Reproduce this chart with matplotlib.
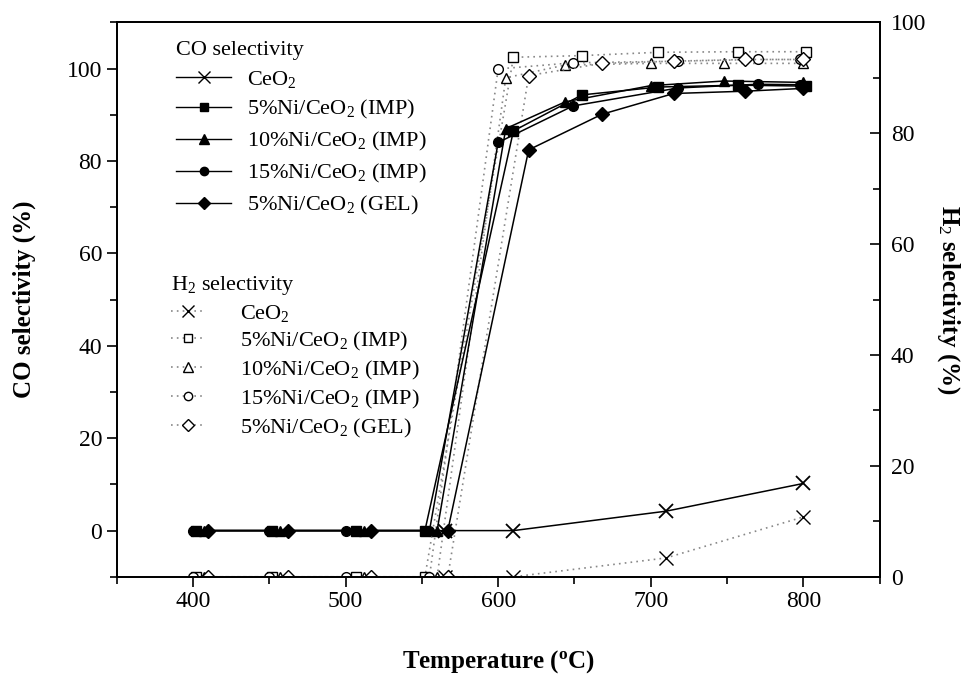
import matplotlib
matplotlib.use('Agg')
import matplotlib.pyplot as plt
from matplotlib.ticker import MultipleLocator
from matplotlib.lines import Line2D

plt.rcParams['font.family'] = ['Liberation Serif', 'DejaVu Serif']
plt.rcParams['mathtext.fontset'] = 'custom'
plt.rcParams['mathtext.rm'] = 'Liberation Serif'
plt.rcParams['mathtext.it'] = 'Liberation Serif:italic'
plt.rcParams['mathtext.bf'] = 'Liberation Serif:bold'

# data
labels = ['CeO$_2$', '5%Ni/CeO$_2$ (IMP)', '10%Ni/CeO$_2$ (IMP)',
          '15%Ni/CeO$_2$ (IMP)', '5%Ni/CeO$_2$ (GEL)']
markers = ['x', 's', '^', 'o', 'D']
msizes = [10, 7, 7.5, 7, 7]

t_ceo2 = [565, 610, 710, 800]
t_5imp = [402, 452, 507, 552, 610, 655, 705, 757, 802]
t_10imp = [407, 457, 512, 560, 605, 644, 700, 748, 800]
t_15imp = [400, 450, 500, 555, 600, 649, 718, 770, 798]
t_gel = [410, 462, 517, 567, 620, 668, 715, 762, 800]

co_ceo2 = [0, 0, 4.2, 10.2]
co_5imp = [0, 0, 0, 0, 86.5, 94.3, 96.0, 96.4, 96.2]
co_10imp = [0, 0, 0, 0, 87.0, 92.8, 96.3, 97.3, 97.0]
co_15imp = [0, 0, 0, 0, 84.0, 91.9, 95.8, 96.6, 96.5]
co_gel = [0, 0, 0, 0, 82.4, 90.1, 94.6, 95.1, 95.7]

h2_ceo2 = [0, 0, 3.4, 10.8]
h2_5imp = [0, 0, 0, 0, 93.7, 94.0, 94.6, 94.7, 94.7]
h2_10imp = [0, 0, 0, 0, 90.0, 92.3, 92.6, 92.6, 92.6]
h2_15imp = [0, 0, 0, 0, 91.6, 92.7, 93.0, 93.3, 93.3]
h2_gel = [0, 0, 0, 0, 90.4, 92.6, 93.0, 93.3, 93.3]

temps = [t_ceo2, t_5imp, t_10imp, t_15imp, t_gel]
co_vals = [co_ceo2, co_5imp, co_10imp, co_15imp, co_gel]
h2_vals = [h2_ceo2, h2_5imp, h2_10imp, h2_15imp, h2_gel]

fig = plt.figure(figsize=(9.72, 6.77), dpi=100)
ax = fig.add_axes([0.120, 0.148, 0.785, 0.819])
ax2 = ax.twinx()

co_handles = []
h2_handles = []
for t, co, h2, m, ms in zip(temps, co_vals, h2_vals, markers, msizes):
    ax.plot(t, co, color='black', lw=1.1, marker=m, ms=ms,
            mfc='black', mec='black', mew=1.3 if m == 'x' else 1.0)
    ax2.plot(t, h2, color='#888888', lw=1.2, ls=(0, (1, 2.5)), marker=m, ms=ms,
             mfc='white' if m != 'x' else 'black', mec='black', mew=1.0)
    co_handles.append(Line2D([], [], color='black', lw=1.0, marker=m, ms=ms - 1,
                             mfc='black', mec='black'))
    h2_handles.append(Line2D([], [], color='#888888', lw=1.2, ls=(0, (1, 2.5)),
                             marker=m, ms=ms - 1, mfc='white', mec='black'))

ax.set_xlim(350, 850)
ax.set_ylim(-10, 110)
ax2.set_ylim(0, 100)
ax2.set_zorder(ax.get_zorder() - 1)
ax.patch.set_visible(False)

ax.xaxis.set_major_locator(MultipleLocator(100))
ax.xaxis.set_minor_locator(MultipleLocator(50))
ax.yaxis.set_major_locator(MultipleLocator(20))
ax.yaxis.set_minor_locator(MultipleLocator(10))
ax2.yaxis.set_major_locator(MultipleLocator(20))
ax2.yaxis.set_minor_locator(MultipleLocator(10))

ax.tick_params(axis='both', which='both', direction='out', top=False, right=False,
               labelsize=17, width=1.2)
ax.tick_params(which='major', length=7)
ax.tick_params(which='minor', length=5)
ax2.tick_params(axis='y', which='both', direction='in', labelsize=17, width=1.2, pad=8)
ax2.tick_params(which='major', length=7)
ax2.tick_params(which='minor', length=5)
for a in (ax, ax2):
    for s in a.spines.values():
        s.set_linewidth(1.3)

ax.set_xlabel('Temperature ($^{\\mathbf{o}}$C)', fontsize=18, fontweight='bold', labelpad=26)
ax.set_ylabel('CO selectivity (%)', fontsize=18, fontweight='bold', labelpad=22)
ax2.set_ylabel('H$_2$ selectivity (%)', fontsize=18, fontweight='bold',
               rotation=270, labelpad=26)

leg1 = ax.legend(co_handles, labels, title='CO selectivity', loc='upper left',
                 bbox_to_anchor=(0.181, 0.94), bbox_transform=fig.transFigure,
                 frameon=False, fontsize=16, title_fontsize=16, handlelength=2.5,
                 handletextpad=0.7, labelspacing=0.4, alignment='left',
                 borderpad=0, borderaxespad=0)
ax.add_artist(leg1)
leg2 = ax.legend(h2_handles, labels, title='H$_2$ selectivity', loc='upper left',
                 bbox_to_anchor=(0.176, 0.596), bbox_transform=fig.transFigure,
                 frameon=False, fontsize=16, title_fontsize=16, handlelength=1.5,
                 handletextpad=1.6, labelspacing=0.27, alignment='left',
                 borderpad=0, borderaxespad=0)

fig.savefig('out.png', dpi=100)
